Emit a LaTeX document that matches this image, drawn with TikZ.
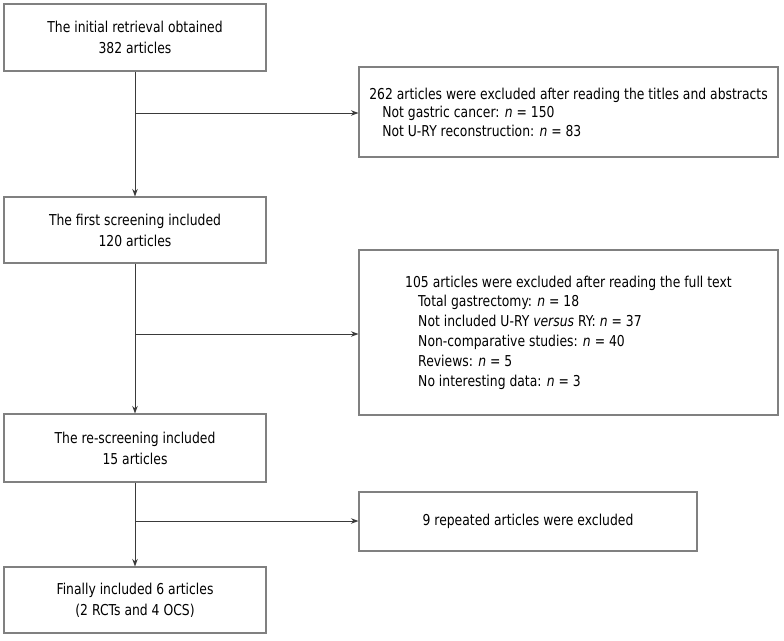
\documentclass[tikz,border=0pt]{standalone}
\usepackage{fontspec}
\setmainfont[FakeStretch=0.825]{DejaVu Sans}
\usetikzlibrary{arrows.meta}
\definecolor{boxgray}{HTML}{808080}
\definecolor{linegray}{HTML}{3A3A3A}
\begin{document}
\begin{tikzpicture}[x=1pt,y=-1pt,
  stagebox/.style={draw=boxgray,line width=1.1pt,minimum width=262pt,inner sep=0pt,align=center,
    font=\fontsize{15}{21}\selectfont},
  exbox/.style={draw=boxgray,line width=1.1pt,minimum width=419pt,inner sep=0pt,align=left},
  conn/.style={draw=linegray,line width=0.9pt,-{Stealth[length=7.5pt,width=5.5pt]}}]
\useasboundingbox (0,0) rectangle (784,640);
\node[stagebox,minimum height=67pt] (a) at (135,37.5) {The initial retrieval obtained\\382 articles};
\node[stagebox,minimum height=66pt] (b) at (135,230) {The first screening included\\120 articles};
\node[stagebox,minimum height=68pt] (c) at (135,448) {The re-screening included\\15 articles};
\node[stagebox,minimum height=66pt] (d) at (135,600) {Finally included 6 articles\\(2 RCTs and 4 OCS)};
\node[exbox,minimum height=90pt,font=\fontsize{15}{18.5}\selectfont] (e1) at (568.5,112)
  {262 articles were excluded after reading the titles and abstracts\\
   \hspace*{13pt}Not gastric cancer: \textit{n} = 150\\
   \hspace*{13pt}Not U-RY reconstruction: \textit{n} = 83};
\node[exbox,minimum height=165pt,font=\fontsize{15}{19.8}\selectfont] (e2) at (568.5,332.5)
  {105 articles were excluded after reading the full text\\
   \hspace*{13pt}Total gastrectomy: \textit{n} = 18\\
   \hspace*{13pt}Not included U-RY \textit{versus} RY: \textit{n} = 37\\
   \hspace*{13pt}Non-comparative studies: \textit{n} = 40\\
   \hspace*{13pt}Reviews: \textit{n} = 5\\
   \hspace*{13pt}No interesting data: \textit{n} = 3};
\node[draw=boxgray,line width=1.1pt,minimum width=338pt,minimum height=59pt,inner sep=0pt,
  font=\fontsize{15}{20}\selectfont] (e3) at (528,521.5) {9 repeated articles were excluded};
\coordinate (j1) at (135,113);
\coordinate (j2) at (135,334);
\coordinate (j3) at (135,521);
\draw[conn] (a.south) -- (b.north);
\draw[conn] (b.south) -- (c.north);
\draw[conn] (c.south) -- (d.north);
\draw[conn] (j1) -- (j1 -| e1.west);
\draw[conn] (j2) -- (j2 -| e2.west);
\draw[conn] (j3) -- (j3 -| e3.west);
\end{tikzpicture}
\end{document}
